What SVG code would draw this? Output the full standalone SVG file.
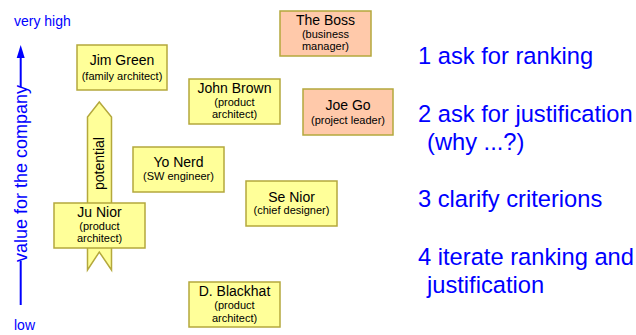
<svg xmlns="http://www.w3.org/2000/svg" width="636" height="335" viewBox="0 0 636 335">
<style>
.box{fill:#FFFF99;stroke:#B4A83C;stroke-width:1.5}
.boss{fill:#FFC9AA;stroke:#B4A83C;stroke-width:1.5}
.nm{font-family:"Liberation Sans",Arial,sans-serif;font-size:14px;fill:#000;text-anchor:middle}
.sub{font-family:"Liberation Sans",Arial,sans-serif;font-size:11px;fill:#000;text-anchor:middle}
.blue{font-family:"Liberation Sans",Arial,sans-serif;fill:#0000FF}
.step{font-size:23.7px}
</style>
<g id="connectors">
<line x1="20.7" y1="57" x2="20.7" y2="87" stroke="#0000FF" stroke-width="2"/>
<path d="M16.7,58 L20.7,45 L24.7,58 Z" fill="#0000FF"/>
<line x1="20.7" y1="261" x2="20.7" y2="305" stroke="#0000FF" stroke-width="2"/>
</g>
<g id="axis-labels">
<text class="blue" x="14" y="26" font-size="14">very high</text>
<text class="blue" x="14" y="330" font-size="14">low</text>
<text class="blue" font-size="18" text-anchor="middle" transform="translate(27,173.5) rotate(-90)">value for the company</text>
</g>
<g id="potential">
<polygon class="box" points="99.3,102 111.5,117 111.5,270 99.3,252 87.5,270 87.5,117"/>
<text class="nm" transform="translate(104,163.5) rotate(-90)">potential</text>
</g>
<g id="jim-green">
<rect class="box" x="77" y="45" width="90" height="45"/>
<text class="nm" x="122" y="65">Jim Green</text>
<text class="sub" x="122" y="80">(family architect)</text>
</g>
<g id="the-boss">
<rect class="boss" x="280" y="11" width="91" height="45"/>
<text class="nm" x="325.5" y="25">The Boss</text>
<text class="sub" x="325.5" y="38">(business</text>
<text class="sub" x="325.5" y="50">manager)</text>
</g>
<g id="john-brown">
<rect class="box" x="189" y="79" width="91" height="45"/>
<text class="nm" x="234.5" y="93">John Brown</text>
<text class="sub" x="234.5" y="106">(product</text>
<text class="sub" x="234.5" y="118">architect)</text>
</g>
<g id="joe-go">
<rect class="boss" x="303" y="89" width="90" height="46"/>
<text class="nm" x="348" y="110">Joe Go</text>
<text class="sub" x="348" y="124">(project leader)</text>
</g>
<g id="yo-nerd">
<rect class="box" x="133" y="147" width="91" height="45"/>
<text class="nm" x="178.5" y="167">Yo Nerd</text>
<text class="sub" x="178.5" y="180">(SW engineer)</text>
</g>
<g id="se-nior">
<rect class="box" x="246" y="181" width="91" height="45"/>
<text class="nm" x="291.5" y="202">Se Nior</text>
<text class="sub" x="291.5" y="214">(chief designer)</text>
</g>
<g id="ju-nior">
<rect class="box" x="54" y="203" width="91" height="45"/>
<text class="nm" x="99.5" y="217">Ju Nior</text>
<text class="sub" x="99.5" y="230">(product</text>
<text class="sub" x="99.5" y="242">architect)</text>
</g>
<g id="d-blackhat">
<rect class="box" x="189" y="282" width="91" height="45"/>
<text class="nm" x="234.5" y="296">D. Blackhat</text>
<text class="sub" x="234.5" y="309">(product</text>
<text class="sub" x="234.5" y="322">architect)</text>
</g>
<g id="steps">
<text class="blue step" x="418" y="64">1 ask for ranking</text>
<text class="blue step" x="418" y="122">2 ask for justification</text>
<text class="blue step" x="427" y="150">(why ...?)</text>
<text class="blue step" x="418" y="207">3 clarify criterions</text>
<text class="blue step" x="418" y="265">4 iterate ranking and</text>
<text class="blue step" x="427" y="293">justification</text>
</g>
</svg>
